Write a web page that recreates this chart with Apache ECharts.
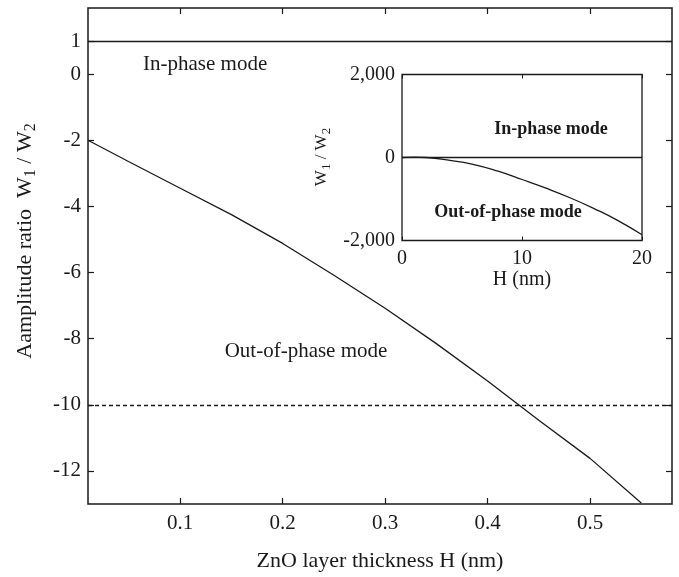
<!DOCTYPE html>
<html>
<head>
<meta charset="utf-8">
<script src="https://cdn.jsdelivr.net/npm/echarts@6/dist/echarts.min.js"></script>
<style>
  html, body { margin: 0; background: #fff; }
  #chart { width: 679px; height: 577px; }
</style>
</head>
<body>
<div id="chart"></div>
<script>
// main plot: ZnO layer thickness (nm) vs amplitude ratio
const thickness = [0.01, 0.05, 0.10, 0.15, 0.20, 0.25, 0.30, 0.35, 0.40, 0.45, 0.50, 0.55];
const ratio = [-2.0, -2.65, -3.45, -4.25, -5.12, -6.08, -7.08, -8.15, -9.28, -10.47, -11.62, -12.97];
const xTicks = [0.1, 0.2, 0.3, 0.4, 0.5];
const yTicks = [1, 0, -2, -4, -6, -8, -10, -12];
const inPhaseLine = 1;
const thresholdLine = -10;

// inset: H (nm) 0..20
const insetH = [0, 1, 2, 4, 6, 8, 10, 12, 14, 16, 18, 20];
const insetRatio = [0, 10, 0, -70, -170, -330, -530, -740, -970, -1230, -1520, -1860];

const serif = '"Liberation Serif", "DejaVu Serif", serif';
const ink = '#1a1a1a';

const chart = echarts.init(document.getElementById('chart'));

const zip = (a, b) => a.map((v, i) => [v, b[i]]);
const sub = { fontSize: 16, fontFamily: serif, color: ink, verticalAlign: 'bottom', lineHeight: 28 };
const noLine = { show: false, onZero: false };

const option = {
  animation: false,
  backgroundColor: '#fff',
  grid: [
    { left: 88, top: 8, width: 584, height: 499, show: true, borderColor: ink, borderWidth: 1.5, backgroundColor: '#fff' },
    { left: 402, top: 74.5, width: 240, height: 166, show: true, borderColor: ink, borderWidth: 1.3, backgroundColor: '#fff' }
  ],
  xAxis: [
    {
      gridIndex: 0, type: 'value', min: 0.01, max: 0.58,
      axisLine: noLine,
      axisTick: { inside: true, length: 6, customValues: xTicks, lineStyle: { color: ink, width: 1.2 } },
      axisLabel: { customValues: xTicks, margin: 9, fontSize: 21, fontFamily: serif, color: ink, formatter: v => v.toFixed(1) },
      splitLine: { show: false },
      name: 'ZnO layer thickness H (nm)', nameLocation: 'middle', nameGap: 46,
      nameTextStyle: { fontSize: 22, fontFamily: serif, color: ink }
    },
    {
      gridIndex: 0, type: 'value', position: 'top', min: 0.01, max: 0.58,
      axisLine: noLine,
      axisTick: { inside: true, length: 6, customValues: xTicks, lineStyle: { color: ink, width: 1.2 } },
      axisLabel: { show: false },
      splitLine: { show: false }
    },
    {
      gridIndex: 1, type: 'value', min: 0, max: 20, interval: 10,
      axisLine: noLine,
      axisTick: { inside: true, length: 4, lineStyle: { color: ink } },
      axisLabel: { margin: 8, fontSize: 20, fontFamily: serif, color: ink },
      splitLine: { show: false },
      name: 'H (nm)', nameLocation: 'middle', nameGap: 28,
      nameTextStyle: { fontSize: 20, fontFamily: serif, color: ink }
    },
    {
      gridIndex: 1, type: 'value', position: 'top', min: 0, max: 20, interval: 10,
      axisLine: noLine,
      axisTick: { inside: true, length: 4, lineStyle: { color: ink } },
      axisLabel: { show: false },
      splitLine: { show: false }
    }
  ],
  yAxis: [
    {
      gridIndex: 0, type: 'value', min: -13, max: 2,
      axisLine: noLine,
      axisTick: { inside: true, length: 6, customValues: yTicks, lineStyle: { color: ink, width: 1.2 } },
      axisLabel: { customValues: yTicks, margin: 7, fontSize: 21, fontFamily: serif, color: ink },
      splitLine: { show: false }
    },
    {
      gridIndex: 0, type: 'value', position: 'right', min: -13, max: 2,
      axisLine: noLine,
      axisTick: { inside: true, length: 6, customValues: yTicks, lineStyle: { color: ink, width: 1.2 } },
      axisLabel: { show: false },
      splitLine: { show: false }
    },
    {
      gridIndex: 1, type: 'value', min: -2000, max: 2000, interval: 2000,
      axisLine: noLine,
      axisTick: { show: false },
      axisLabel: {
        margin: 7, fontSize: 20, fontFamily: serif, color: ink,
        formatter: v => v === 0 ? '0' : (v < 0 ? '-' : '') + Math.abs(v).toLocaleString('en-US')
      },
      splitLine: { show: false }
    }
  ],
  series: [
    {
      type: 'line', xAxisIndex: 0, yAxisIndex: 0,
      data: zip(thickness, ratio),
      showSymbol: false,
      lineStyle: { color: ink, width: 1.3 },
      markLine: {
        silent: true, symbol: ['none', 'none'], label: { show: false },
        data: [
          { yAxis: inPhaseLine, lineStyle: { color: ink, type: 'solid', width: 1.4 } },
          { yAxis: thresholdLine, lineStyle: { color: ink, type: [4, 3], width: 1.3 } }
        ]
      }
    },
    {
      type: 'line', xAxisIndex: 2, yAxisIndex: 2,
      data: zip(insetH, insetRatio),
      showSymbol: false, smooth: true,
      lineStyle: { color: ink, width: 1.3 },
      markLine: {
        silent: true, symbol: ['none', 'none'], label: { show: false },
        data: [{ yAxis: 0, lineStyle: { color: ink, type: 'solid', width: 1.4 } }]
      }
    }
  ],
  graphic: [
    {
      type: 'text', x: 25, y: 241, rotation: Math.PI / 2,
      style: {
        text: 'Aamplitude ratio  W{s|1} / W{s|2}', rich: { s: sub },
        fontSize: 22, fontFamily: serif, fill: ink,
        align: 'center', verticalAlign: 'middle', textAlign: 'center', textVerticalAlign: 'middle'
      }
    },
    {
      type: 'text', x: 322, y: 157, rotation: Math.PI / 2,
      style: {
        text: 'W{t|1} / W{t|2}', rich: { t: Object.assign({}, sub, { fontSize: 13, lineHeight: 22 }) },
        fontSize: 17, fontFamily: serif, fill: ink,
        align: 'center', verticalAlign: 'middle', textAlign: 'center', textVerticalAlign: 'middle'
      }
    },
    {
      type: 'text', x: 143, y: 64,
      style: { text: 'In-phase mode', fontSize: 21, fontFamily: serif, fill: ink, verticalAlign: 'middle', textVerticalAlign: 'middle' }
    },
    {
      type: 'text', x: 306, y: 351,
      style: {
        text: 'Out-of-phase mode', fontSize: 21, fontFamily: serif, fill: ink,
        align: 'center', verticalAlign: 'middle', textAlign: 'center', textVerticalAlign: 'middle'
      }
    },
    {
      type: 'text', x: 551, y: 129, z: 10,
      style: {
        text: 'In-phase mode', fontSize: 18, fontWeight: 'bold', fontFamily: serif, fill: ink,
        align: 'center', verticalAlign: 'middle', textAlign: 'center', textVerticalAlign: 'middle'
      }
    },
    {
      type: 'text', x: 508, y: 212, z: 10,
      style: {
        text: 'Out-of-phase mode', fontSize: 18, fontWeight: 'bold', fontFamily: serif, fill: ink,
        align: 'center', verticalAlign: 'middle', textAlign: 'center', textVerticalAlign: 'middle'
      }
    }
  ]
};

chart.setOption(option);
</script>
</body>
</html>
